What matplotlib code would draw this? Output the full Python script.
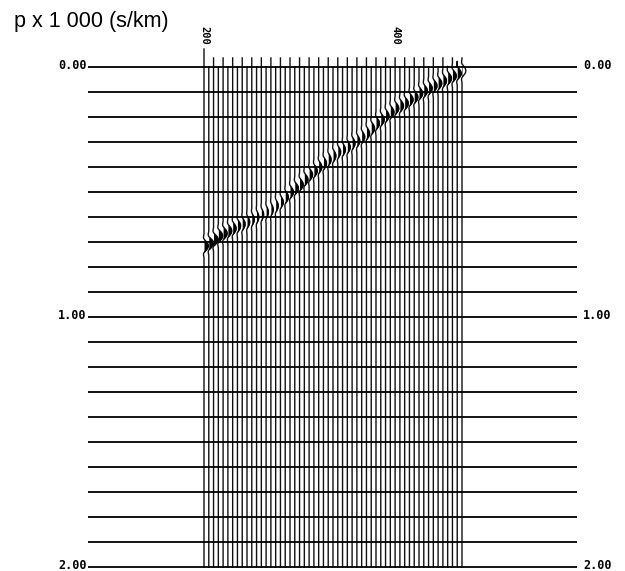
import numpy as np
import matplotlib
matplotlib.use("Agg")
import matplotlib.pyplot as plt

# trace positions (ray parameter, p x 1000 s/km)
p_traces = np.arange(200, 471, 5)

# picked intercept time of the main event on each trace (s)
tau_event = [0.715, 0.705, 0.690, 0.675, 0.665, 0.655, 0.645, 0.635, 0.628, 0.620,
             0.610, 0.600, 0.590, 0.580, 0.570, 0.555, 0.540, 0.520, 0.500, 0.485,
             0.470, 0.450, 0.430, 0.415, 0.400, 0.385, 0.370, 0.355, 0.340, 0.330,
             0.320, 0.305, 0.295, 0.280, 0.265, 0.245, 0.225, 0.210, 0.195, 0.180,
             0.165, 0.155, 0.145, 0.130, 0.120, 0.105, 0.095, 0.085, 0.075, 0.065,
             0.055, 0.045, 0.035, 0.025, 0.015]

# peak amplitude of the event on each trace (in p units)
amp_event = [4.5, 5.0, 4.8, 4.5, 4.2, 4.0, 3.6, 3.3, 3.0, 2.8,
             2.6, 2.4, 2.4, 2.4, 2.5, 2.7, 3.0, 3.3, 3.6, 3.8,
             3.8, 3.8, 3.6, 3.5, 3.3, 3.2, 3.0, 3.0, 3.0, 3.0,
             3.0, 3.0, 3.0, 3.2, 3.3, 3.5, 3.6, 3.6, 3.6, 3.8,
             3.8, 3.8, 3.8, 3.8, 3.8, 3.8, 3.8, 3.8, 3.8, 3.8,
             3.8, 4.0, 4.0, 4.2, 4.0]

# source wavelet samples, centred on the pick
wavelet = [0.0, -0.05, -0.1, -0.12, -0.05, 0.15, 0.4, 0.65, 0.85, 0.97, 1.0,
           0.97, 0.85, 0.65, 0.4, 0.15, -0.05, -0.12, -0.1, -0.05, 0.0]
dt_wavelet = 0.0048

tau_ticks = np.round(np.arange(0.0, 2.001, 0.1), 2)
tau_labels = {0.0: "0.00", 1.0: "1.00", 2.0: "2.00"}
trace_labels = [200, 400]

W, H = 625, 571
fig = plt.figure(figsize=(W / 100, H / 100), dpi=100)
ax = fig.add_axes([204 / W, 4 / H, 258 / W, 500 / H])
ax.set_xlim(200, 470)
ax.set_ylim(2.0, 0.0)
ax.axis("off")

# horizontal timing lines, running out past the section on both sides
ax.hlines(tau_ticks, -0.45, 1.446, transform=ax.get_yaxis_transform(),
          color="black", lw=1.3, clip_on=False, zorder=3)

half = (len(wavelet) - 1) / 2
for p, t0, a in zip(p_traces, tau_event, amp_event):
    t_top = 0.0
    if p == 200:
        t_top = -0.072
    elif p % 10 == 0:
        t_top = -0.036
    t_w = t0 + (np.arange(len(wavelet)) - half) * dt_wavelet
    x_w = p + a * np.array(wavelet)
    t = np.concatenate([[t_top], t_w, [2.0]])
    x = np.concatenate([[p], x_w, [p]])
    ax.plot(x, t, color="#111111", lw=1.0, clip_on=False, zorder=2)
    ax.fill_betweenx(t_w, p, x_w, where=x_w > p, color="black", lw=0, zorder=2)

# time labels on both sides
for t, s in tau_labels.items():
    ax.text(-0.455, t - 0.005, s, transform=ax.get_yaxis_transform(), ha="right", va="center",
            family="DejaVu Sans Mono", fontweight="bold", fontsize=8.5)
    ax.text(1.47, t - 0.005, s, transform=ax.get_yaxis_transform(), ha="left", va="center",
            family="DejaVu Sans Mono", fontweight="bold", fontsize=8.5)

for p in trace_labels:
    ax.text(p, 1.064, str(p), transform=ax.get_xaxis_transform(), ha="center", va="center",
            rotation=-90, family="DejaVu Sans Mono", fontweight="bold", fontsize=7.5)

fig.text(14 / W, 1 - 21 / H, "p x 1 000 (s/km)", ha="left", va="center",
         family="Liberation Sans", fontsize=15.5)

fig.savefig("out.png", dpi=100)
